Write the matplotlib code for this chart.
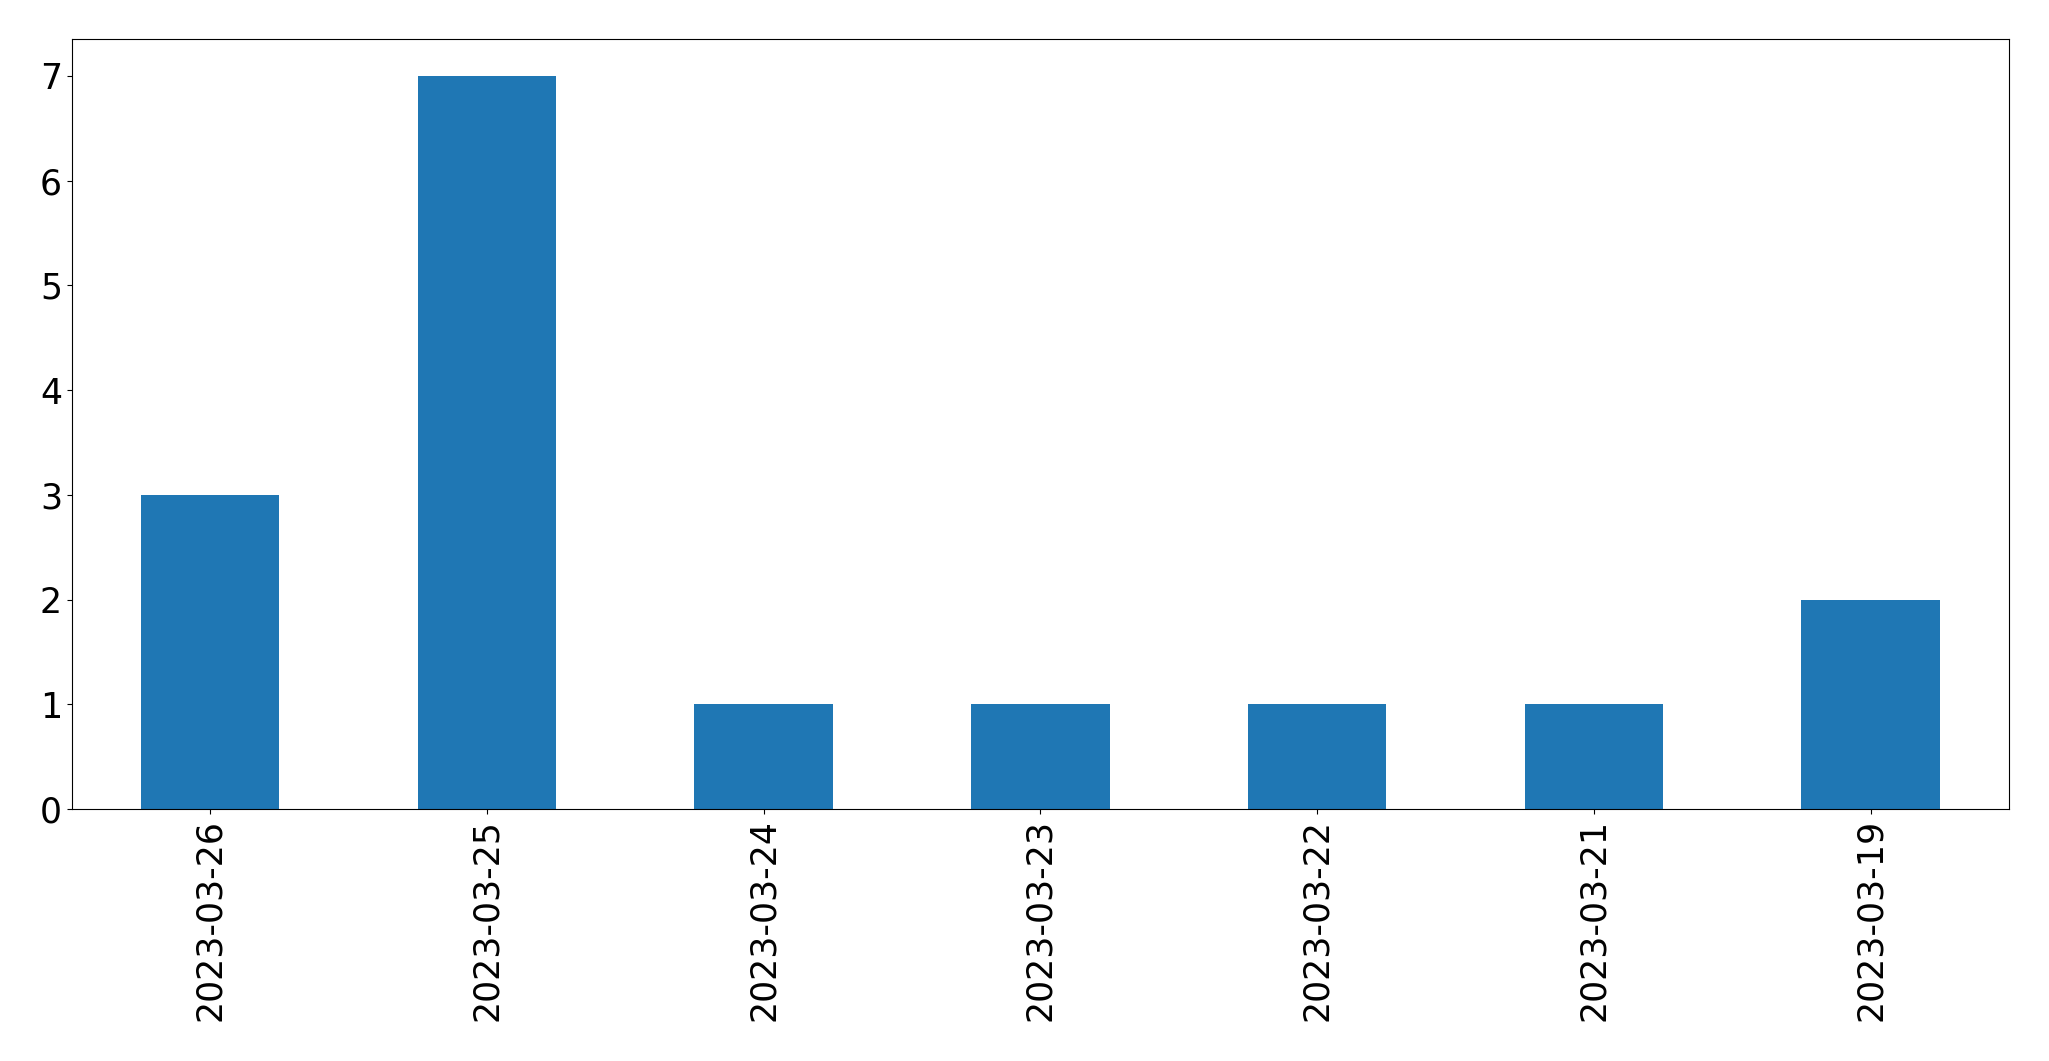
import matplotlib
matplotlib.use("Agg")
import matplotlib.pyplot as plt

# counts per day, newest first (as in the original)
dates = ['2023-03-26', '2023-03-25', '2023-03-24', '2023-03-23',
         '2023-03-22', '2023-03-21', '2023-03-19']
counts = [3, 7, 1, 1, 1, 1, 2]

fig, ax = plt.subplots(figsize=(20.49, 10.61), dpi=100)
pos = list(range(len(dates)))
ax.bar(pos, counts, width=0.5, color='#1f77b4')
ax.set_xlim(-0.5, len(dates) - 0.5)
ax.set_xticks(pos)
ax.set_xticklabels(dates, rotation=90)
ax.tick_params(axis='both', labelsize=25)
fig.subplots_adjust(left=0.035, right=0.9805, top=0.963, bottom=0.2375)
fig.savefig('out.png', dpi=100)
